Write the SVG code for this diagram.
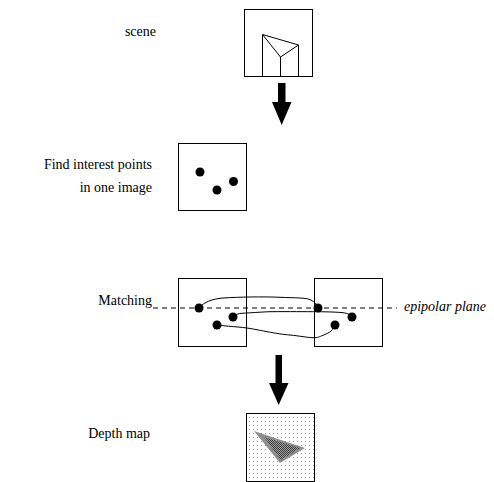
<svg xmlns="http://www.w3.org/2000/svg" width="494" height="482" viewBox="0 0 494 482">
  <style>
    text { font-family: "Liberation Serif", "Times New Roman", "DejaVu Serif", serif; font-size: 14px; fill: #000; }
    .it { font-style: italic; }
    .box { fill: #fff; stroke: #000; stroke-width: 1; }
    .ln { fill: none; stroke: #000; stroke-width: 1; }
    .pt { fill: #000; }
    .arrow { fill: #000; }
    .epi { fill: none; stroke: #000; stroke-width: 1; stroke-dasharray: 5 4; }
  </style>
  <defs>
    <!-- light stipple for the depth map background -->
    <pattern id="stipple" width="4" height="4" patternUnits="userSpaceOnUse">
      <rect width="4" height="4" fill="#fff"/>
      <rect x="1" y="1" width="1" height="1" fill="#999"/>
    </pattern>
    <!-- halftone checker for the near surface -->
    <pattern id="checker" width="2" height="2" patternUnits="userSpaceOnUse">
      <rect width="2" height="2" fill="#a0a0a0"/>
      <rect width="1" height="1" fill="#3c3c3c"/>
      <rect x="1" y="1" width="1" height="1" fill="#3c3c3c"/>
    </pattern>
  </defs>

  <!-- labels -->
  <text x="156" y="36" text-anchor="end" font-family="Liberation Serif, DejaVu Serif, serif">scene</text>
  <text x="152" y="169" text-anchor="end" font-family="Liberation Serif, DejaVu Serif, serif">Find interest points</text>
  <text x="152" y="192" text-anchor="end" font-family="Liberation Serif, DejaVu Serif, serif">in one image</text>
  <text x="152" y="305" text-anchor="end" font-family="Liberation Serif, DejaVu Serif, serif">Matching</text>
  <text x="150" y="438" text-anchor="end" font-family="Liberation Serif, DejaVu Serif, serif">Depth map</text>
  <text class="it" x="404" y="311" font-family="Liberation Serif, DejaVu Serif, serif">epipolar plane</text>

  <!-- scene -->
  <g id="scene">
    <rect class="box" x="244.5" y="9.5" width="68" height="67"/>
    <polyline class="ln" points="262.5,76 262.5,34.5 298.5,45 298.5,76"/>
    <polyline class="ln" points="262.5,34.5 280.5,57 298.5,45"/>
    <line class="ln" x1="280.5" y1="57" x2="280.5" y2="76"/>
  </g>

  <!-- interest points in one image -->
  <g id="interest">
    <rect class="box" x="178.5" y="143.5" width="68" height="67"/>
    <circle class="pt" cx="200" cy="172" r="4.5"/>
    <circle class="pt" cx="217" cy="190" r="4.5"/>
    <circle class="pt" cx="233.5" cy="181.5" r="4.5"/>
  </g>

  <!-- matching pair -->
  <g id="left-image">
    <rect class="box" x="178.5" y="278.5" width="68" height="68"/>
  </g>
  <g id="right-image">
    <rect class="box" x="314.5" y="278.5" width="68" height="68"/>
  </g>

  <g id="connectors">
    <!-- step arrows -->
    <path class="arrow" d="M278,83 H285.5 V102 H291.5 L281.7,125 L272,102 H278 Z"/>
    <path class="arrow" d="M275.5,355 H282 V383 H288.5 L278.7,405 L269,383 H275.5 Z"/>
    <!-- epipolar line -->
    <line class="epi" x1="153" y1="308" x2="397" y2="308"/>
    <!-- correspondence curves -->
    <path class="ln" d="M199,308 C204,302 212,299 223,298 C240,297 262,296.5 280,297.3 C296,298 306,297.5 311,300 C315,302 317,305 318,308"/>
    <path class="ln" d="M233,317 C236,314 239,313.5 242,313.3 C255,312.5 262,312 270,311.7 C290,311.5 305,311.7 317,311.7 C330,311.8 338,312.2 343,312.7 C348,313.3 351,315 352,317"/>
    <path class="ln" d="M217,325 C225,326 232,326.5 238,327 C250,328 258,330 267,331.7 C277,333.5 283,334.5 290,335 C300,336 307,337.5 313,337.7 C318,337.8 320,336.5 322,335.7 C326,334 329,333 331,331 C333,329 334,327 335,325"/>
  </g>

  <!-- matched points (drawn over the curves) -->
  <g id="matches">
    <circle class="pt" cx="199" cy="308" r="4.5"/>
    <circle class="pt" cx="233" cy="317" r="4.5"/>
    <circle class="pt" cx="217" cy="325" r="4.5"/>
    <circle class="pt" cx="318" cy="308" r="4.5"/>
    <circle class="pt" cx="352" cy="317" r="4.5"/>
    <circle class="pt" cx="335" cy="325" r="4.5"/>
  </g>

  <!-- depth map -->
  <g id="depth-map">
    <rect x="246.5" y="413.5" width="68" height="68" fill="url(#stipple)" stroke="#000" stroke-width="1"/>
    <polygon points="254,431 305,448 280,463" fill="#8e8e8e"/>
    <polygon points="264,437 300,448 281,460" fill="url(#checker)"/>
  </g>
</svg>
